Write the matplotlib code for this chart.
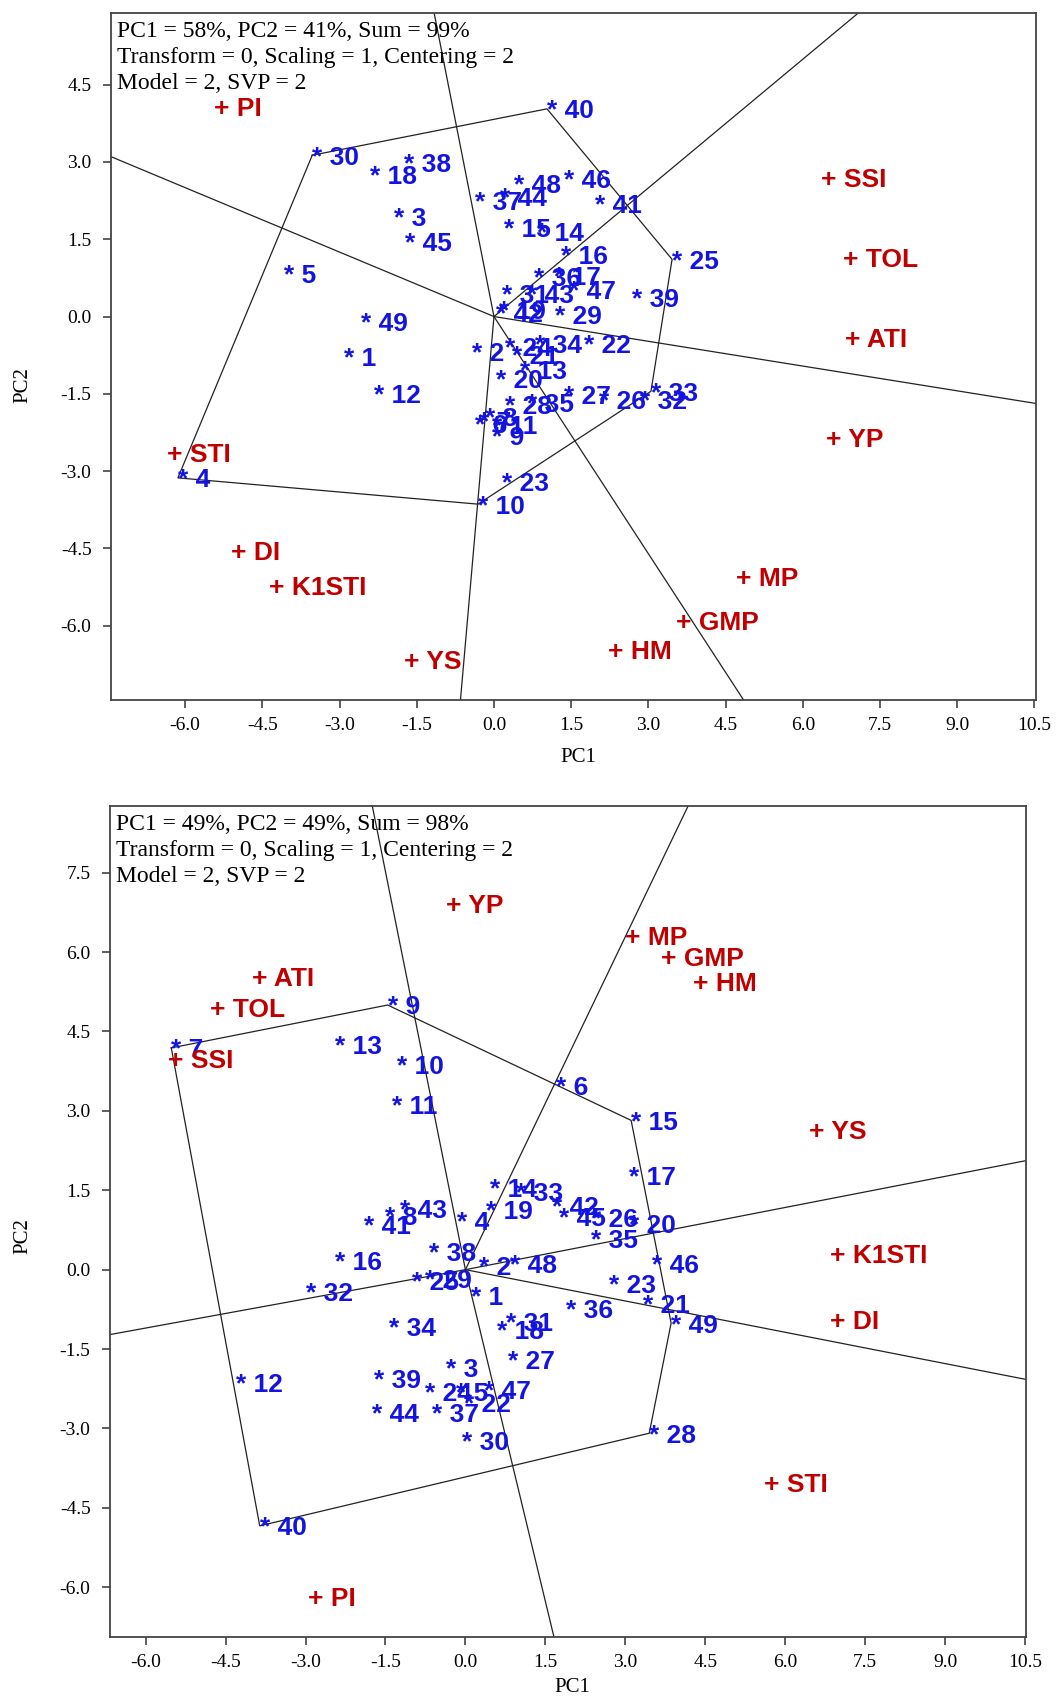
import matplotlib
matplotlib.use('Agg')
import matplotlib.pyplot as plt
import numpy as np

plt.rcParams['axes.unicode_minus'] = False

# ---- data ----
genotypes = [str(i) for i in range(1, 50)]

top_gx = [-2.92, -0.43, -1.95, -6.14, -4.08, -0.36, -0.30, -0.17, -0.04, -0.31,
          -0.04, -2.34, 0.51, 0.83, 0.19, 1.31, 1.16, -2.40, 0.09, 0.04,
          0.35, 1.74, 0.16, 0.22, 3.46, 2.05, 1.37, 0.22, 1.19, -3.53,
          0.16, 2.84, 3.05, 0.80, 0.64, 0.77, -0.36, -1.75, 2.68, 1.03,
          1.97, 0.03, 0.64, 0.12, -1.72, 1.37, 1.45, 0.38, -2.59]
top_gy = [-0.78, -0.68, 1.94, -3.13, 0.84, -2.07, -2.01, -1.94, -2.30, -3.64,
          -2.10, -1.49, -1.03, 1.65, 1.72, 1.20, 0.79, 2.75, 0.13, -1.20,
          -0.74, -0.52, -3.20, -0.58, 1.11, -1.62, -1.52, -1.71, 0.03, 3.13,
          0.44, -1.62, -1.45, -0.52, -1.67, 0.78, 2.26, 2.98, 0.36, 4.03,
          2.19, 0.07, 0.44, 2.32, 1.46, 2.67, 0.52, 2.58, -0.10]

bot_gx = [0.10, 0.25, -0.37, -0.15, -0.18, 1.70, -5.52, -1.50, -1.46, -1.28,
          -1.37, -4.30, -2.44, 0.47, 3.11, -2.44, 3.07, 0.60, 0.38, 3.07,
          3.33, -0.03, 2.70, -0.75, -1.00, 2.35, 0.79, 3.45, -0.75, -0.06,
          0.76, -3.00, 0.94, -1.44, 2.35, 1.88, -0.62, -0.68, -1.72, -3.86,
          -1.91, 1.63, -1.22, -1.75, 1.76, 3.51, 0.35, 0.83, 3.86]
bot_gy = [-0.49, 0.07, -1.84, 0.93, -2.30, 3.47, 4.19, 1.02, 5.00, 3.88,
          3.12, -2.14, 4.25, 1.56, 2.82, 0.18, 1.78, -1.13, 1.13, 0.87,
          -0.64, -2.52, -0.26, -2.30, -0.20, 0.98, -1.70, -3.09, -0.16, -3.23,
          -0.98, -0.42, 1.48, -1.08, 0.59, -0.74, -2.70, 0.35, -2.05, -4.84,
          0.85, 1.21, 1.15, -2.70, 1.01, 0.11, -2.26, 0.11, -1.01]

traits = ['YP', 'YS', 'MP', 'GMP', 'HM', 'SSI', 'STI', 'TOL', 'ATI', 'K1STI', 'DI', 'PI']
top_tx = [6.46, -1.75, 4.70, 3.54, 2.21, 6.36, -6.35, 6.78, 6.82, -4.37, -5.10, -5.44]
top_ty = [-2.35, -6.65, -5.05, -5.89, -6.46, 2.70, -2.64, 1.14, -0.40, -5.21, -4.54, 4.07]
bot_tx = [-0.37, 6.44, 2.99, 3.67, 4.27, -5.58, 5.61, -4.80, -4.01, 6.85, 6.85, -2.95]
bot_ty = [6.92, 2.65, 6.32, 5.91, 5.45, 3.98, -4.02, 4.95, 5.53, 0.30, -0.95, -6.18]

# polygon vertices (genotype numbers)
top_hull = [30, 40, 25, 33, 10, 4]
bot_hull = [7, 9, 15, 49, 28, 40]

top_note = "PC1 = 58%, PC2 = 41%, Sum = 99%\nTransform = 0, Scaling = 1, Centering = 2\nModel = 2, SVP = 2"
bot_note = "PC1 = 49%, PC2 = 49%, Sum = 98%\nTransform = 0, Scaling = 1, Centering = 2\nModel = 2, SVP = 2"

ticks = [-6.0, -4.5, -3.0, -1.5, 0.0, 1.5, 3.0, 4.5, 6.0, 7.5, 9.0, 10.5]

blue = '#1414e0'
red = '#c00000'
line_c = '#222222'
lab_size = 19


def biplot(ax, gx, gy, tx, ty, hull, note, xlim, ylim, yticks, xlab_y, ylab_x, ylab_y):
    ax.set_xlim(*xlim)
    ax.set_ylim(*ylim)

    # polygon
    vx = [gx[g - 1] for g in hull]
    vy = [gy[g - 1] for g in hull]
    ax.plot(vx + vx[:1], vy + vy[:1], color=line_c, lw=0.9, zorder=1)

    # rays from the origin, perpendicular to each polygon side
    n = len(vx)
    for i in range(n):
        x1, y1 = vx[i], vy[i]
        x2, y2 = vx[(i + 1) % n], vy[(i + 1) % n]
        dx, dy = x2 - x1, y2 - y1
        t = -(x1 * dx + y1 * dy) / (dx * dx + dy * dy)
        fx, fy = x1 + t * dx, y1 + t * dy
        L = np.hypot(fx, fy)
        ax.plot([0, fx / L * 40], [0, fy / L * 40], color=line_c, lw=0.9, zorder=1)

    off = -0.358 * lab_size
    # genotype labels
    for lab, x, y in zip(genotypes, gx, gy):
        ax.annotate('* ' + lab, (x, y), xytext=(0, off), textcoords='offset points',
                    ha='left', va='baseline', color=blue, fontsize=lab_size,
                    fontweight='bold', family='Liberation Sans', zorder=3)
    # trait labels
    for lab, x, y in zip(traits, tx, ty):
        ax.annotate('+ ' + lab, (x, y), xytext=(0, off), textcoords='offset points',
                    ha='left', va='baseline', color=red, fontsize=lab_size,
                    fontweight='bold', family='Liberation Sans', zorder=3)

    ax.annotate(note, (0, 1), xycoords='axes fraction', xytext=(4, -5.5),
                textcoords='offset points', ha='left', va='top', fontsize=17,
                family='Liberation Serif', linespacing=1.33)

    ax.set_xticks(ticks)
    ax.set_yticks(yticks)
    ax.set_xticklabels(['%.1f' % v for v in ticks])
    ax.set_yticklabels(['%.1f' % v for v in yticks])
    for lb in ax.get_xticklabels() + ax.get_yticklabels():
        lb.set_family('Liberation Serif')
        lb.set_fontsize(14)
    ax.tick_params(axis='x', direction='out', length=6, width=1.1, pad=6, colors='#333333')
    ax.tick_params(axis='y', direction='out', length=6, width=1.1, pad=8, colors='#333333')
    for lb in ax.get_xticklabels() + ax.get_yticklabels():
        lb.set_color('black')
    for s in ax.spines.values():
        s.set_color('#444444')
        s.set_linewidth(1.3)

    ax.set_xlabel('PC1', family='Liberation Serif', fontsize=15)
    ax.set_ylabel('PC2', family='Liberation Serif', fontsize=15)
    ax.xaxis.set_label_coords(0.505, xlab_y)
    ax.yaxis.set_label_coords(ylab_x, ylab_y)


fig = plt.figure(figsize=(10.57, 17.0), dpi=100)
ax1 = fig.add_axes([0.10501, 0.58824, 0.87512, 0.40412])
ax2 = fig.add_axes([0.10407, 0.03706, 0.86660, 0.48882])

biplot(ax1, top_gx, top_gy, top_tx, top_ty, top_hull, top_note,
       (-7.44, 10.53), (-7.44, 5.89), ticks[:8], -0.0699, -0.0846, 0.4585)
biplot(ax2, bot_gx, bot_gy, bot_tx, bot_ty, bot_hull, bot_note,
       (-6.67, 10.52), (-6.94, 8.76), ticks[:10], -0.0493, -0.0844, 0.4826)

fig.savefig('out.png', dpi=100)
